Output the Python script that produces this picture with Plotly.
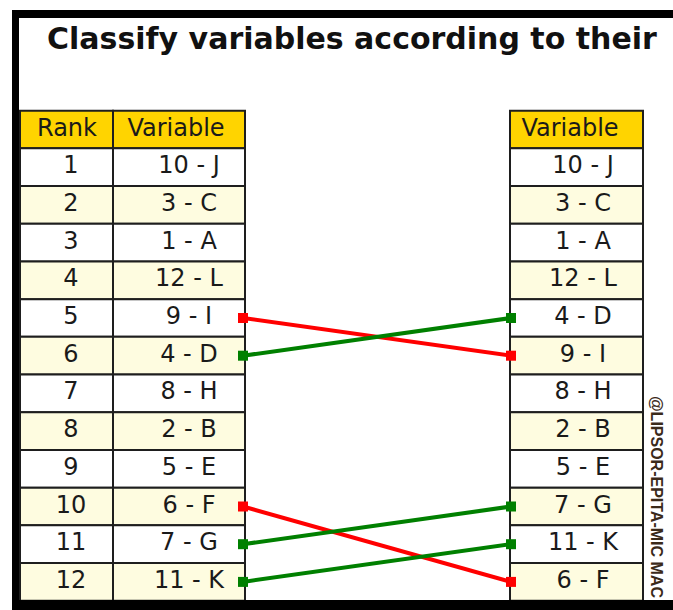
import plotly.graph_objects as go

# ---------------- data ----------------
title_text = "Classify variables according to their"
ranks = [1, 2, 3, 4, 5, 6, 7, 8, 9, 10, 11, 12]
left_vars = ["10 - J", "3 - C", "1 - A", "12 - L", "9 - I", "4 - D",
             "8 - H", "2 - B", "5 - E", "6 - F", "7 - G", "11 - K"]
right_vars = ["10 - J", "3 - C", "1 - A", "12 - L", "4 - D", "9 - I",
              "8 - H", "2 - B", "5 - E", "7 - G", "11 - K", "6 - F"]
header_rank = "Rank"
header_var = "Variable"
watermark = "@LIPSOR-EPITA-MIC MAC"

# ---------------- layout constants ----------------
W, H = 673, 610
ROW_PX = 37.7
ROW0_PX = 129.5          # pixel centre of header row (row index 0)
y_top = -ROW0_PX / ROW_PX
y_bot = (H - ROW0_PX) / ROW_PX

L_X0, L_XM, L_X1 = 20, 113, 245
R_X0, R_X1 = 510, 643
HEADER_FILL = "#FFD400"
ODD_FILL = "#FFFFFF"
EVEN_FILL = "#FEFCE0"
GRID = "#1e1e1e"
TXT = "#1a1a1a"
CELL_FONT = dict(family="DejaVu Sans", size=24, color=TXT)

fig = go.Figure()
shapes = []


def cell(x0, x1, row, fill):
    shapes.append(dict(type="rect", xref="x", yref="y", x0=x0, x1=x1,
                       y0=row - 0.5, y1=row + 0.5, fillcolor=fill,
                       line=dict(color=GRID, width=2), layer="below"))


# headers
cell(L_X0, L_XM, 0, HEADER_FILL)
cell(L_XM, L_X1, 0, HEADER_FILL)
cell(R_X0, R_X1, 0, HEADER_FILL)
# body rows
for r in ranks:
    fill = ODD_FILL if r % 2 == 1 else EVEN_FILL
    cell(L_X0, L_XM, r, fill)
    cell(L_XM, L_X1, r, fill)
    cell(R_X0, R_X1, r, fill)

# outer frame (black bars)
shapes += [
    dict(type="rect", xref="paper", yref="paper", x0=12 / W, x1=1, y0=1 - 18 / H, y1=1 - 10 / H,
         fillcolor="black", line=dict(width=0)),
    dict(type="rect", xref="paper", yref="paper", x0=12 / W, x1=19 / W, y0=0, y1=1 - 10 / H,
         fillcolor="black", line=dict(width=0)),
    dict(type="rect", xref="paper", yref="paper", x0=12 / W, x1=1, y0=0, y1=10 / H,
         fillcolor="black", line=dict(width=0)),
]

# header texts
fig.add_trace(go.Scatter(x=[67, 176, 570], y=[0, 0, 0], mode="text",
                         text=[header_rank, header_var, header_var],
                         textfont=CELL_FONT, hoverinfo="skip", showlegend=False))
# rank column
fig.add_trace(go.Scatter(x=[71] * len(ranks), y=ranks, mode="text",
                         text=[str(r) for r in ranks], textfont=CELL_FONT,
                         hoverinfo="skip", showlegend=False))
# left variables
fig.add_trace(go.Scatter(x=[189] * len(left_vars), y=ranks, mode="text",
                         text=left_vars, textfont=CELL_FONT,
                         hoverinfo="skip", showlegend=False))
# right variables
fig.add_trace(go.Scatter(x=[583] * len(right_vars), y=ranks, mode="text",
                         text=right_vars, textfont=CELL_FONT,
                         hoverinfo="skip", showlegend=False))

# connecting lines for variables that changed rank
LX, RX = 243, 511
for i, v in enumerate(left_vars):
    lr = i + 1
    rr = right_vars.index(v) + 1
    if lr == rr:
        continue
    color = "#FF0000" if rr > lr else "#008000"
    fig.add_trace(go.Scatter(x=[LX, RX], y=[lr, rr], mode="lines+markers",
                             line=dict(color=color, width=4),
                             marker=dict(symbol="square", size=10, color=color),
                             hoverinfo="skip", showlegend=False))

annotations = [
    dict(xref="paper", yref="paper", x=45 / W, y=1 - 38 / H, xanchor="left", yanchor="middle",
         text=f"<b>{title_text}</b>", showarrow=False,
         font=dict(family="DejaVu Sans", size=30, color="#111111")),
    dict(xref="paper", yref="paper", x=657 / W, y=1 - 497 / H, xanchor="center", yanchor="middle",
         text=f"<b>{watermark}</b>", showarrow=False, textangle=90,
         font=dict(family="Liberation Sans", size=16, color="#3b2a1a")),
]

fig.update_layout(
    width=W, height=H,
    margin=dict(l=0, r=0, t=0, b=0),
    paper_bgcolor="white", plot_bgcolor="white",
    xaxis=dict(range=[0, W], visible=False, fixedrange=True),
    yaxis=dict(range=[y_bot, y_top], visible=False, fixedrange=True),
    shapes=shapes, annotations=annotations,
    showlegend=False,
)

fig.write_html(
    "out.html",
    config={"displayModeBar": False},
    post_script="document.body.style.margin='0';document.body.style.overflow='hidden';",
)
